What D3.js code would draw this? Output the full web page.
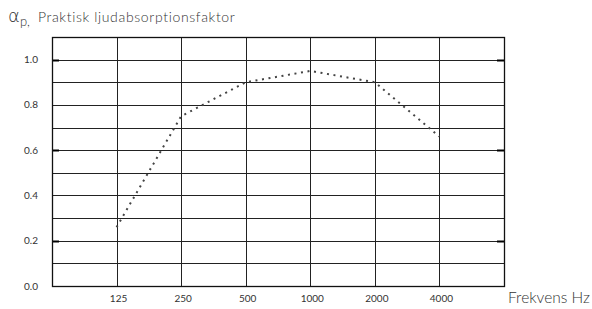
<!DOCTYPE html>
<html>
<head>
<meta charset="utf-8">
<script src="https://cdn.jsdelivr.net/npm/d3@7"></script>
<style>
  body { margin: 0; background: #fff; }
  text { font-family: Lato, "Open Sans", sans-serif; fill: #333; }
  .light { font-weight: 300; }
</style>
</head>
<body>
<svg id="chart" width="592" height="309"></svg>
<script>
// frequency bands (Hz) and practical absorption coefficient
const frequencies = [125, 250, 500, 1000, 2000, 4000];
const alphaP = [0.26, 0.75, 0.90, 0.95, 0.90, 0.66];
const yTickLabels = [0.0, 0.2, 0.4, 0.6, 0.8, 1.0];
const yGrid = [0.1, 0.2, 0.3, 0.4, 0.5, 0.6, 0.7, 0.8, 0.9, 1.0];

const svg = d3.select('#chart');

// plot box
const boxLeft = 52, boxRight = 504, boxTop = 37, boxBottom = 286;

const x = d3.scaleLog().base(2).domain([62.5, 8000]).range([boxLeft, boxRight]);
const y = d3.scaleLinear().domain([0, 1.1]).range([boxBottom, boxTop]);

const g = svg.append('g');

// horizontal grid
g.selectAll('.hgrid')
  .data(yGrid)
  .enter()
  .append('line')
  .attr('x1', boxLeft).attr('x2', boxRight)
  .attr('y1', d => Math.round(y(d)) + 0.5)
  .attr('y2', d => Math.round(y(d)) + 0.5)
  .attr('stroke', '#222')
  .attr('stroke-width', 1);

// vertical grid
g.selectAll('.vgrid')
  .data(frequencies)
  .enter()
  .append('line')
  .attr('x1', d => Math.round(x(d)) + 0.5)
  .attr('x2', d => Math.round(x(d)) + 0.5)
  .attr('y1', boxTop).attr('y2', boxBottom)
  .attr('stroke', '#222')
  .attr('stroke-width', 1);

// short heavier ticks
[0.2, 0.6, 1.0].forEach(v => {
  g.append('line')
    .attr('x1', boxLeft).attr('x2', boxLeft + 7)
    .attr('y1', Math.round(y(v)) + 0.5).attr('y2', Math.round(y(v)) + 0.5)
    .attr('stroke', '#000').attr('stroke-width', 2);
  g.append('line')
    .attr('x1', boxRight - 7).attr('x2', boxRight)
    .attr('y1', Math.round(y(v)) + 0.5).attr('y2', Math.round(y(v)) + 0.5)
    .attr('stroke', '#000').attr('stroke-width', 2);
});

// frame
g.append('rect')
  .attr('x', boxLeft + 0.5).attr('y', boxTop + 0.5)
  .attr('width', boxRight - boxLeft).attr('height', boxBottom - boxTop)
  .attr('fill', 'none')
  .attr('stroke', '#111')
  .attr('stroke-width', 1.3);

// y labels
g.selectAll('.ylab')
  .data(yTickLabels)
  .enter()
  .append('text')
  .attr('x', 38)
  .attr('y', d => y(d))
  .attr('dy', '0.35em')
  .attr('text-anchor', 'end')
  .attr('font-size', '10px')
  .text(d => d.toFixed(1));

// x labels
g.selectAll('.xlab')
  .data(frequencies)
  .enter()
  .append('text')
  .attr('x', d => x(d) + 2)
  .attr('y', 298)
  .attr('dy', '0.35em')
  .attr('text-anchor', 'middle')
  .attr('font-size', '10px')
  .text(d => d);

// dotted curve
const line = d3.line()
  .x((d, i) => x(frequencies[i]))
  .y(d => y(d));

g.append('path')
  .datum(alphaP)
  .attr('d', line)
  .attr('fill', 'none')
  .attr('stroke', '#444')
  .attr('stroke-width', 2)
  .attr('stroke-dasharray', '2,4.6');

// title
const title = svg.append('text')
  .attr('class', 'light')
  .attr('x', 8)
  .attr('y', 22);
title.append('tspan')
  .attr('font-size', '18px')
  .attr('font-family', '"DejaVu Sans", sans-serif')
  .style('font-weight', 300)
  .text('α');
title.append('tspan')
  .attr('font-size', '13px')
  .attr('dy', 4)
  .text('p,');
title.append('tspan')
  .attr('font-size', '14px')
  .attr('letter-spacing', '0.65px')
  .attr('dy', -4)
  .attr('dx', 8)
  .text('Praktisk ljudabsorptionsfaktor');

// x axis title
svg.append('text')
  .attr('class', 'light')
  .attr('x', 590)
  .attr('y', 298)
  .attr('dy', '0.35em')
  .attr('text-anchor', 'end')
  .attr('font-size', '15.5px')
  .attr('fill', '#444')
  .text('Frekvens Hz');
</script>
</body>
</html>
